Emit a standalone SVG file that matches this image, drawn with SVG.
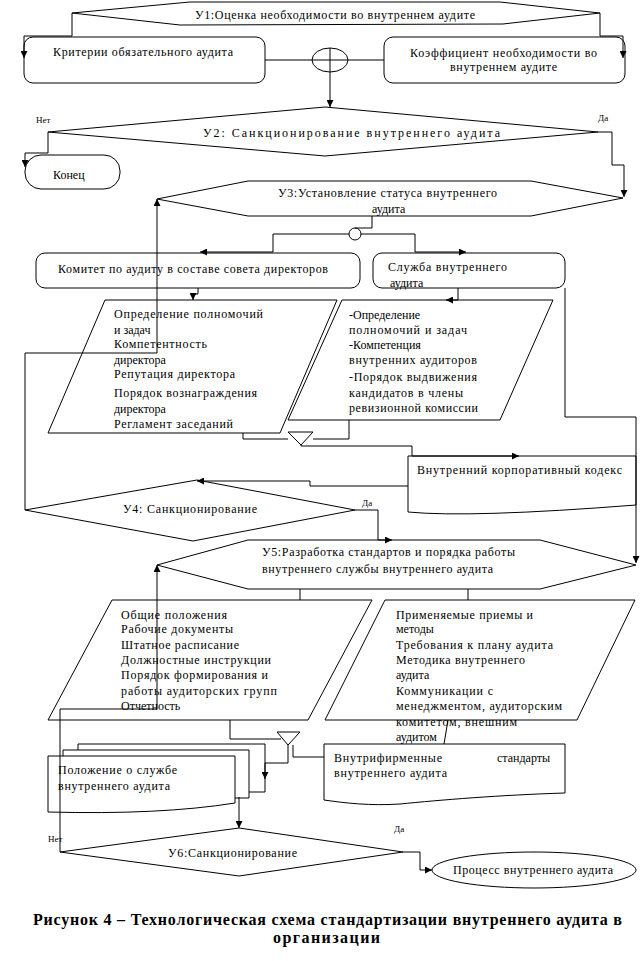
<svg xmlns="http://www.w3.org/2000/svg" width="641" height="961" viewBox="0 0 641 961" font-family="'Liberation Serif','DejaVu Serif','Times New Roman',serif">
<style>
.s{fill:#fff;stroke:#000;stroke-width:1}
.n{fill:none;stroke:#000;stroke-width:1}
.c{fill:none;stroke:#000;stroke-width:1}
.a{fill:none;stroke:#000;stroke-width:1;marker-end:url(#ah)}
text{font-family:"Liberation Serif","DejaVu Serif","Times New Roman",serif;font-size:12px;fill:#000}
.sm{font-size:9px}
.t{font-size:16px;font-weight:bold}
</style>
<defs>
<marker id="ah" viewBox="0 0 10 10" refX="10" refY="5" markerWidth="7" markerHeight="7" markerUnits="userSpaceOnUse" orient="auto"><path d="M0,0L10,5L0,10Z" fill="#000"/></marker>
</defs>
<rect width="641" height="961" fill="#fff"/>
<g id="u1"><polygon class="s" points="72,13 190,2 500,2 600,13 503,24 180,25"/><text x="195" y="19" textLength="280">У1:Оценка необходимости во внутреннем аудите</text></g>
<g id="kriterii"><rect class="s" x="24" y="37" width="241" height="46" rx="9"/><text x="53" y="56" textLength="180">Критерии обязательного аудита</text></g>
<g id="koef"><rect class="s" x="384" y="37" width="241" height="46" rx="9"/><text x="410" y="57" textLength="187">Коэффициент необходимости во</text><text x="450" y="71" textLength="107">внутреннем аудите</text></g>
<g id="merge1"><ellipse class="s" cx="330" cy="60" rx="18" ry="12"/><path class="n" d="M312,60H348M330,48V72"/></g>
<g id="u2"><polygon class="s" points="48,132 325,107 598,132 325,156"/><text x="203" y="137" textLength="297">У2: Санкционирование внутреннего аудита</text></g>
<g id="konec"><rect class="s" x="25" y="155" width="95" height="34" rx="16"/><text x="53" y="179">Конец</text></g>
<g id="u3"><polygon class="s" points="157,199 248,181 531,181 623,198 531,216 248,216"/><text x="278" y="197" textLength="219">У3:Установление статуса внутреннего</text><text x="372" y="213">аудита</text></g>
<g id="merge2"><circle class="s" cx="355" cy="234" r="6"/></g>
<g id="komitet"><rect class="s" x="36" y="253" width="324" height="35" rx="9"/><text x="58" y="273" textLength="270">Комитет по аудиту в составе совета директоров</text></g>
<g id="sluzhba"><rect class="s" x="373" y="253" width="192" height="35" rx="9"/><text x="388" y="271" textLength="119">Служба внутреннего</text><text x="390" y="287">аудита</text></g>
<g id="para1l"><polygon class="s" points="105,300 337,300 280,433 48,433"/>
<text x="114" y="318" textLength="149">Определение полномочий</text>
<text x="114" y="334">и задач</text>
<text x="114" y="348" textLength="93">Компетентность</text>
<text x="114" y="364">директора</text>
<text x="114" y="378" textLength="121">Репутация директора</text>
<text x="114" y="397" textLength="143">Порядок вознаграждения</text>
<text x="114" y="413">директора</text>
<text x="114" y="428" textLength="119">Регламент заседаний</text></g>
<g id="para1r"><polygon class="s" points="342,300 553,300 500,420 288,420"/>
<text x="349" y="319">-Определение</text>
<text x="349" y="334" textLength="118">полномочий и задач</text>
<text x="349" y="349">-Компетенция</text>
<text x="349" y="364" textLength="128">внутренних  аудиторов</text>
<text x="349" y="381" textLength="128">-Порядок выдвижения</text>
<text x="349" y="397" textLength="114">кандидатов в члены</text>
<text x="349" y="412" textLength="129">ревизионной комиссии</text></g>
<g id="merge3"><polygon class="s" points="288,432 313,432 301,445"/></g>
<g id="kodeks"><path class="s" d="M408,456H636V505Q470,518 408,512Z"/><text x="417" y="474" textLength="205">Внутренний корпоративный кодекс</text></g>
<g id="u4"><polygon class="s" points="25,510 197,480 355,510 193,541"/><text x="123" y="513" textLength="134">У4: Санкционирование</text></g>
<g id="u5"><polygon class="s" points="157,565 248,540 540,540 636,565 540,589 248,589"/><text x="262" y="556" textLength="253">У5:Разработка стандартов и порядка работы</text><text x="262" y="573" textLength="231">внутреннего службы внутреннего аудита</text></g>
<g id="para2l"><polygon class="s" points="112,600 372,600 308,720 48,720"/>
<text x="121" y="619" textLength="106">Общие положения</text>
<text x="121" y="633" textLength="112">Рабочие документы</text>
<text x="121" y="649" textLength="118">Штатное расписание</text>
<text x="121" y="664" textLength="150">Должностные инструкции</text>
<text x="121" y="679" textLength="147">Порядок формирования и</text>
<text x="121" y="695" textLength="156">работы  аудиторских групп</text>
<text x="121" y="710">Отчетность</text></g>
<g id="para2r"><polygon class="s" points="385,600 635,600 577,720 325,720"/>
<text x="396" y="619" textLength="137">Применяемые приемы и</text>
<text x="396" y="633">методы</text>
<text x="396" y="649" textLength="157">Требования к плану  аудита</text>
<text x="396" y="664" textLength="129">Методика внутреннего</text>
<text x="396" y="679">аудита</text>
<text x="396" y="695" textLength="97">Коммуникации с</text>
<text x="396" y="710" textLength="166">менеджментом, аудиторским</text>
<text x="396" y="726" textLength="121">комитетом, внешним</text>
<text x="396" y="741">аудитом</text></g>
<g id="merge4"><polygon class="s" points="277,732 300,732 288,745"/></g>
<g id="polozhenie"><path class="s" d="M78,744H265V792H78Z"/><path class="s" d="M63,750H249V798H63Z"/><path class="s" d="M48,756H235V803Q160,815 48,812Z"/><text x="58" y="774" textLength="119">Положение о службе</text><text x="58" y="790" textLength="112">внутреннего аудита</text></g>
<g id="standarty"><path class="s" d="M324,744H565V793C500,795 440,800 400,804C370,806 345,803 324,800Z"/><text x="334" y="762" textLength="108">Внутрифирменные</text><text x="497" y="762">стандарты</text><text x="334" y="777" textLength="113">внутреннего аудита</text></g>
<g id="u6"><polygon class="s" points="60,852 239,828 403,852 239,876"/><text x="168" y="857" textLength="129">У6:Санкционирование</text></g>
<g id="process"><ellipse class="s" cx="534" cy="870" rx="102" ry="18"/><text x="453" y="874" textLength="160">Процесс внутреннего аудита</text></g>
<g id="connectors">
<path class="a" d="M72,13V36H24V58"/>
<path class="a" d="M600,13V36H623V58"/>
<path class="c" d="M265,60H312M348,60H384"/>
<path class="a" d="M330,72V107"/>
<path class="a" d="M48,132V153H25V167"/>
<path class="a" d="M598,132H612V165H624V197"/>
<path class="c" d="M372,216V228H355"/>
<path class="a" d="M349,234H273V252H200"/>
<path class="a" d="M361,234H415V252H466"/>
<path class="a" d="M198,288V294H193V300"/>
<path class="a" d="M458,288V300H446"/>
<path class="a" d="M565,288V417H636V563"/>
<path class="c" d="M243,433V439H288M349,420V439H313"/>
<path class="a" d="M301,445V446H412V456H519"/>
<path class="a" d="M408,486H310V481H197"/>
<path class="a" d="M25,510V353H157V199"/>
<path class="a" d="M355,510H378V540H392"/>
<path class="c" d="M300,589V600M468,589V600"/>
<path class="c" d="M230,720V739H281"/>
<path class="a" d="M288,745V763H265V779"/>
<path class="c" d="M293,745V757H324"/>
<path class="c" d="M448,720L444,744"/>
<path class="a" d="M239,797V828"/>
<path class="a" d="M60,852V709H157V565"/>
<path class="a" d="M403,852H420V870H432"/>
</g>
<g id="labels">
<text class="sm" x="36" y="123">Нет</text>
<text class="sm" x="598" y="121">Да</text>
<text class="sm" x="362" y="506">Да</text>
<text class="sm" x="48" y="842">Нет</text>
<text class="sm" x="394" y="832">Да</text>
</g>
<g id="caption">
<text class="t" x="33" y="925" textLength="589">Рисунок 4 – Технологическая схема стандартизации внутреннего аудита в</text>
<text class="t" x="273" y="943" textLength="107">организации</text>
</g>
</svg>
